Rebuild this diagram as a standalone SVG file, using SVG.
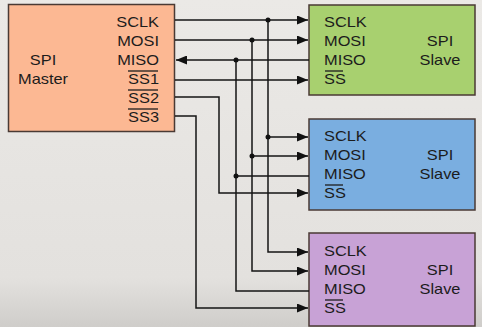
<svg xmlns="http://www.w3.org/2000/svg" width="482" height="327" viewBox="0 0 482 327">
<defs>
<linearGradient id="bg" x1="0" y1="0" x2="0" y2="1">
<stop offset="0" stop-color="#ebe9e6"/>
<stop offset="0.85" stop-color="#e3e1de"/>
<stop offset="1" stop-color="#cfcdca"/>
</linearGradient>
<marker id="arr" viewBox="0 0 11 9" refX="11" refY="4.5" markerWidth="11" markerHeight="9" markerUnits="userSpaceOnUse" orient="auto">
<path d="M0,0 L11,4.5 L0,9 Z" fill="#111"/>
</marker>
<style>
.t{font-family:"Liberation Sans",Arial,sans-serif;font-size:14px;fill:#1c1c1c}
.box{stroke:#4a3a34;stroke-width:1.5}
.w{fill:none;stroke:#151515;stroke-width:1.5}
.a{marker-end:url(#arr)}
.ol{stroke:#1c1c1c;stroke-width:1.3}
.dot{fill:#111}
</style>
</defs>
<rect x="0" y="0" width="482" height="327" fill="url(#bg)"/>

<g id="master">
<rect class="box" x="8.5" y="4.5" width="166" height="127" fill="#fcb893"/>
<text class="t" text-anchor="middle" transform="translate(43,65) scale(1.17,1)">SPI</text>
<text class="t" text-anchor="middle" transform="translate(43,84) scale(1.17,1)">Master</text>
<text class="t" text-anchor="end" transform="translate(159,27) scale(1.17,1)">SCLK</text>
<text class="t" text-anchor="end" transform="translate(159,46) scale(1.17,1)">MOSI</text>
<text class="t" text-anchor="end" transform="translate(159,65) scale(1.17,1)">MISO</text>
<text class="t" text-anchor="end" transform="translate(159,84) scale(1.17,1)">SS1</text>
<text class="t" text-anchor="end" transform="translate(159,103) scale(1.17,1)">SS2</text>
<text class="t" text-anchor="end" transform="translate(159,122) scale(1.17,1)">SS3</text>
<line class="ol" x1="128" y1="71" x2="158" y2="71"/>
<line class="ol" x1="128" y1="90" x2="158" y2="90"/>
<line class="ol" x1="128" y1="109" x2="158" y2="109"/>
</g>

<g id="slave1">
<rect class="box" x="309" y="5" width="166" height="90" fill="#a8d06f"/>
<text class="t" transform="translate(324,27) scale(1.17,1)">SCLK</text>
<text class="t" transform="translate(324,46) scale(1.17,1)">MOSI</text>
<text class="t" transform="translate(324,65) scale(1.17,1)">MISO</text>
<text class="t" transform="translate(324,84) scale(1.17,1)">SS</text>
<line class="ol" x1="325" y1="71" x2="343" y2="71"/>
<text class="t" text-anchor="middle" transform="translate(440,46) scale(1.17,1)">SPI</text>
<text class="t" text-anchor="middle" transform="translate(440,65) scale(1.17,1)">Slave</text>
</g>

<g id="slave2">
<rect class="box" x="309" y="119" width="166" height="91" fill="#7aaee0"/>
<text class="t" transform="translate(324,141) scale(1.17,1)">SCLK</text>
<text class="t" transform="translate(324,160) scale(1.17,1)">MOSI</text>
<text class="t" transform="translate(324,179) scale(1.17,1)">MISO</text>
<text class="t" transform="translate(324,198) scale(1.17,1)">SS</text>
<line class="ol" x1="325" y1="185" x2="343" y2="185"/>
<text class="t" text-anchor="middle" transform="translate(440,160) scale(1.17,1)">SPI</text>
<text class="t" text-anchor="middle" transform="translate(440,179) scale(1.17,1)">Slave</text>
</g>

<g id="slave3">
<rect class="box" x="309" y="233" width="166" height="93" fill="#c8a2d6"/>
<text class="t" transform="translate(324,256) scale(1.17,1)">SCLK</text>
<text class="t" transform="translate(324,275) scale(1.17,1)">MOSI</text>
<text class="t" transform="translate(324,294) scale(1.17,1)">MISO</text>
<text class="t" transform="translate(324,313) scale(1.17,1)">SS</text>
<line class="ol" x1="325" y1="300" x2="343" y2="300"/>
<text class="t" text-anchor="middle" transform="translate(440,275) scale(1.17,1)">SPI</text>
<text class="t" text-anchor="middle" transform="translate(440,294) scale(1.17,1)">Slave</text>
</g>

<g id="connectors">
<path class="w a" d="M175,20 H308"/>
<path class="w a" d="M268,20 V252 H308"/>
<path class="w a" d="M268,137 H308"/>
<path class="w a" d="M175,40 H308"/>
<path class="w a" d="M252,40 V271 H308"/>
<path class="w a" d="M252,156 H308"/>
<path class="w a" d="M309,60 H176"/>
<path class="w" d="M236,60 V291 H309"/>
<path class="w" d="M236,176 H309"/>
<path class="w a" d="M175,80 H308"/>
<path class="w a" d="M175,97 H219 V193 H308"/>
<path class="w a" d="M175,116 H196 V308 H308"/>
<circle class="dot" cx="268" cy="20" r="2.5"/>
<circle class="dot" cx="268" cy="137" r="2.5"/>
<circle class="dot" cx="252" cy="40" r="2.5"/>
<circle class="dot" cx="252" cy="156" r="2.5"/>
<circle class="dot" cx="236" cy="60" r="2.5"/>
<circle class="dot" cx="236" cy="176" r="2.5"/>
</g>
</svg>
